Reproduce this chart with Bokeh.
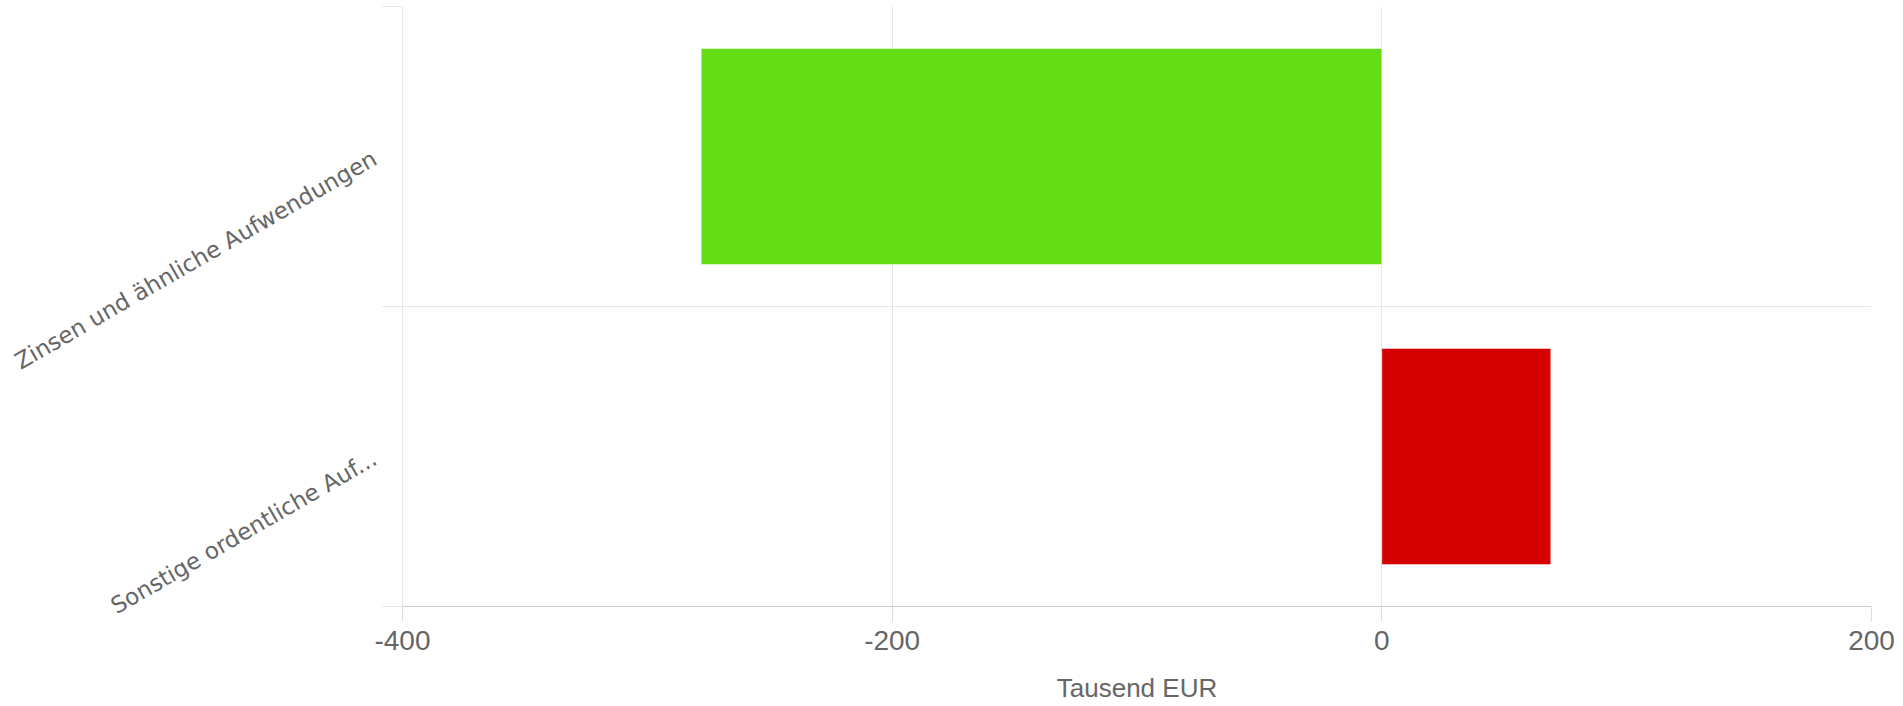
import math
from bokeh.plotting import figure
from bokeh.models import (FactorRange, Range1d, FixedTicker, LinearAxis, CategoricalAxis,
                          ColumnDataSource)
from bokeh.embed import file_html
from bokeh.resources import INLINE

# ---- data ----
categories = ["Zinsen und ähnliche Aufwendungen", "Sonstige ordentliche Auf..."]
values = [-278, 69]
bar_colors = ["#64DD17", "#D50000"]
x_ticks = [-400, -200, 0, 200]
x_title = "Tausend EUR"

src = ColumnDataSource(dict(cat=categories, val=values, color=bar_colors,
                            base=[0] * len(values)))

p = figure(y_range=FactorRange(factors=categories[::-1], range_padding=0),
           x_range=Range1d(x_ticks[0], x_ticks[-1]),
           frame_width=1469, frame_height=600,
           min_border_left=394, min_border_right=24, min_border_top=6, min_border_bottom=90,
           y_axis_location=None,
           output_backend="svg", toolbar_location=None)
p.outline_line_color = None
p.background_fill_color = "white"
p.border_fill_color = "white"

# bars
p.hbar(y="cat", left="base", right="val", height=0.72, source=src,
       fill_color="color", line_color="white", line_alpha=0.45, line_width=1)

# x axis
xt = FixedTicker(ticks=x_ticks)
xa = p.xaxis[0]
xa.ticker = xt
xa.major_label_overrides = {t: str(t) for t in x_ticks}
xa.minor_tick_line_color = None
xa.major_tick_in = 0
xa.major_tick_out = 15
xa.major_tick_line_color = "#dddddd"
xa.axis_line_color = "#cccccc"
xa.major_label_text_font = "Liberation Sans"
xa.major_label_text_font_size = "28px"
xa.major_label_text_color = "#666666"
xa.major_label_standoff = 9
xa.axis_label = x_title
xa.axis_label_text_font = "Liberation Sans"
xa.axis_label_text_font_size = "26px"
xa.axis_label_text_font_style = "normal"
xa.axis_label_text_color = "#666666"
xa.axis_label_standoff = 20

p.xgrid.ticker = xt
p.xgrid.grid_line_color = "#e6e6e6"

# category boundaries (ticks + grid) on the categorical scale's synthetic coordinates
n = len(categories)
bt = FixedTicker(ticks=list(range(n + 1)))
p.ygrid.ticker = bt
p.ygrid.grid_line_color = "#e6e6e6"

tick_axis = LinearAxis(ticker=bt)
tick_axis.major_tick_in = 0
tick_axis.major_tick_out = 20
tick_axis.major_tick_line_color = "#e6e6e6"
tick_axis.minor_tick_line_color = None
tick_axis.axis_line_color = "#e6e6e6"
tick_axis.major_label_text_font_size = "0px"
tick_axis.major_label_text_alpha = 0
tick_axis.major_label_standoff = 0
p.add_layout(tick_axis, "left")

cat_axis = CategoricalAxis()
cat_axis.major_tick_line_color = None
cat_axis.axis_line_color = None
cat_axis.major_label_orientation = math.pi / 6
cat_axis.major_label_text_font = "DejaVu Sans"
cat_axis.major_label_text_font_size = "23px"
cat_axis.major_label_text_color = "#666666"
cat_axis.major_label_standoff = 2
p.add_layout(cat_axis, "left")

open("out.html", "w").write(file_html(p, INLINE))
